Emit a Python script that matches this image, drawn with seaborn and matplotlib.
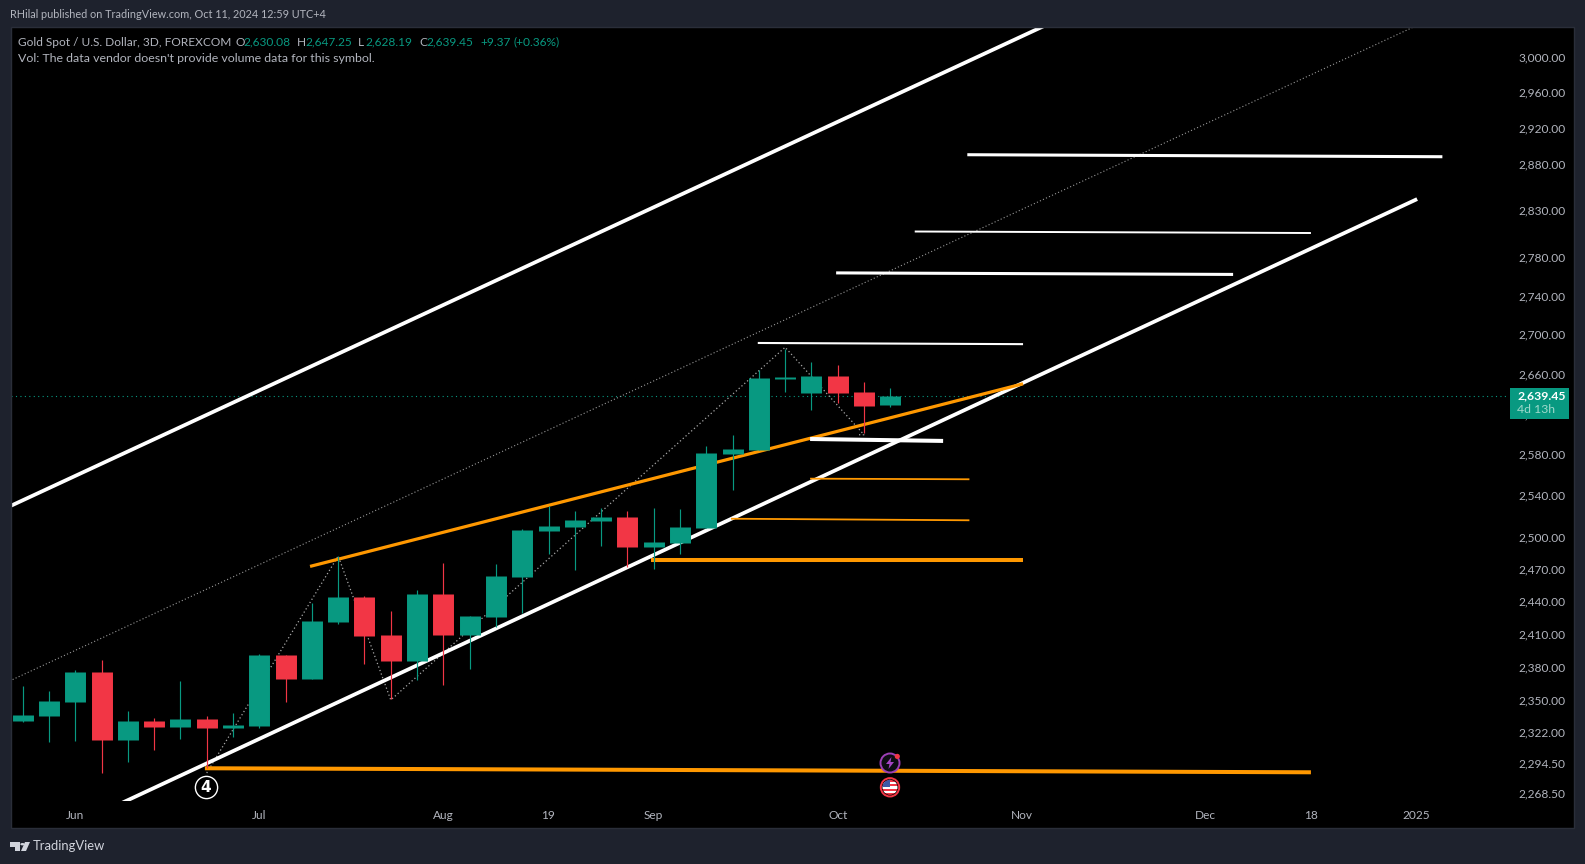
import matplotlib
matplotlib.use("Agg")
import matplotlib.pyplot as plt
from matplotlib.patches import Rectangle, Circle, Polygon
from matplotlib.ticker import NullLocator, NullFormatter
from matplotlib.transforms import ScaledTranslation
import numpy as np
import pandas as pd
import seaborn as sns

# ---------- candle data (3D bars) ----------
opens = [2333.28, 2337.68, 2350.04, 2376.77, 2316.67, 2333.28, 2328.02, 2335.05, 2327.15, 2328.90,
         2392.08, 2370.51, 2422.09, 2445.11, 2410.22, 2386.67, 2447.88, 2410.22, 2426.68, 2464.62,
         2507.96, 2511.76, 2517.49, 2521.30, 2492.79, 2496.57, 2510.81, 2582.29, 2586.22, 2656.88,
         2642.79, 2659.90, 2643.79, 2630.08]
closes = [2338.56, 2350.92, 2376.77, 2316.67, 2333.28, 2328.02, 2335.05, 2327.15, 2329.77, 2392.08,
          2370.51, 2423.01, 2445.11, 2409.31, 2386.67, 2447.88, 2410.22, 2427.59, 2465.55, 2508.91,
          2512.72, 2518.44, 2521.30, 2492.79, 2497.52, 2511.76, 2583.28, 2587.20, 2657.88, 2658.89,
          2659.90, 2642.79, 2629.78, 2639.45]
highs = [2364.25, 2359.80, 2378.57, 2387.56, 2342.08, 2335.92, 2368.71, 2337.68, 2340.33, 2392.98,
         2392.08, 2439.56, 2484.30, 2446.03, 2432.19, 2451.59, 2477.72, 2427.59, 2476.79, 2509.86,
         2531.85, 2527.05, 2529.92, 2527.05, 2529.92, 2528.96, 2590.15, 2600.98, 2665.97, 2687.31,
         2674.07, 2671.04, 2653.85, 2647.25]
lows = [2332.41, 2314.93, 2315.80, 2287.28, 2296.74, 2307.11, 2317.55, 2291.57, 2319.29, 2327.15,
        2350.04, 2370.51, 2420.26, 2383.96, 2352.70, 2369.61, 2365.15, 2379.47, 2417.52, 2430.96,
        2486.19, 2471.17, 2493.74, 2473.97, 2472.10, 2486.19, 2510.81, 2547.26, 2586.22, 2643.79,
        2625.80, 2632.78, 2602.97, 2628.19]
last_price = 2639.45

# ---------- drawn annotations, in bar index / price ----------
channel_upper_bars = [-0.5, 39.46]
channel_upper_prices = [2531.1, 3046.1]
channel_mid_bars = [-0.5, 52.88]
channel_mid_prices = [2368.8, 3036.0]
channel_lower_bars = [2.94, 53.04]
channel_lower_prices = [2252.9, 2844.3]
orange_trend_bars = [10.93, 38.05]
orange_trend_prices = [2474.1, 2651.7]

white_h1_bars = [35.93, 54.0]
white_h1_prices = [2892.6, 2890.4]
white_h2_bars = [33.93, 49.0]
white_h2_prices = [2809.5, 2807.9]
white_h3_bars = [30.94, 46.04]
white_h3_prices = [2765.7, 2764.1]
white_h4_bars = [27.96, 38.05]
white_h4_prices = [2693.1, 2691.9]
white_h5_bars = [29.95, 35.01]
white_h5_prices = [2596.7, 2594.8]

orange_h1_bars = [29.95, 36.01]
orange_h1_prices = [2557.9, 2557.3]
orange_h2_bars = [26.94, 36.01]
orange_h2_prices = [2519.3, 2517.8]
orange_h3_bars = [23.9, 38.05]
orange_h3_prices = [2479.7, 2479.7]
orange_h4_bars = [6.93, 49.0]
orange_h4_prices = [2291.6, 2288.1]

zigzag_bars = [7.0, 12.0, 14.0, 29.0, 32.0, 31.72]
zigzag_prices = [2287.5, 2483.9, 2351.8, 2688.7, 2600.9, 2600.9]

# ---------- axis labels ----------
x_tick_bars = [2, 9, 16, 20, 24, 31, 38, 45, 49, 53]
x_tick_labels = ["Jun", "Jul", "Aug", "19", "Sep", "Oct", "Nov", "Dec", "18", "2025"]
y_tick_prices = [3000, 2960, 2920, 2880, 2830, 2780, 2740, 2700, 2660, 2620, 2580, 2540,
                 2500, 2470, 2440, 2410, 2380, 2350, 2322, 2294.5, 2268.5]

# ---------- style ----------
W, H = 1585, 864
BG = "#1e222d"
GREEN = "#089981"
RED = "#f23645"
ORANGE = "#ff9800"
TEXT = "#b2b5be"
FONT = ["Lato", "DejaVu Sans"]

sns.set_theme(style="dark", rc={"lines.solid_capstyle": "butt", "axes.grid": False})
plt.rcParams["font.family"] = FONT

fig = plt.figure(figsize=(W / 100, H / 100), dpi=100, facecolor=BG)


def fx(x):
    return x / W


def fy(y):
    return 1 - y / H


def ftext(x, y, s, **kw):
    kw.setdefault("color", TEXT)
    kw.setdefault("fontsize", 8.6)
    kw.setdefault("va", "center")
    fig.text(fx(x), fy(y), s, **kw)


fig.add_artist(Rectangle((fx(11), fy(828)), (1574 - 11) / W, (828 - 27) / H, transform=fig.transFigure,
                         facecolor="black", edgecolor="none", zorder=-5))
fig.add_artist(Rectangle((fx(10.5), fy(828)), (1574 - 10.5) / W, (828 - 27) / H, transform=fig.transFigure,
                         facecolor="none", edgecolor="#2a2e39", linewidth=1, zorder=2))

ax = fig.add_axes([fx(11), fy(801), (1506 - 11) / W, (801 - 27) / H], facecolor="black", zorder=1)
ax.set_yscale("log")


def draw(bars, prices, color, lw, ls="-", z=2):
    sns.lineplot(x=bars, y=prices, ax=ax, estimator=None, sort=False, color=color,
                 linewidth=lw, linestyle=ls, zorder=z, legend=False)


DOT = (0, (1, 2))
ax.axhline(last_price, color=GREEN, lw=0.8, ls=(0, (1, 3)), zorder=1)

draw(channel_mid_bars, channel_mid_prices, "#9a9a9a", 0.8, DOT)
draw(zigzag_bars, zigzag_prices, "#a8a8a8", 0.9, DOT)
draw(channel_upper_bars, channel_upper_prices, "white", 2.7)
draw(channel_lower_bars, channel_lower_prices, "white", 2.7)
draw(orange_trend_bars, orange_trend_prices, ORANGE, 2.3)
draw(orange_h4_bars, orange_h4_prices, ORANGE, 2.9)
draw(orange_h3_bars, orange_h3_prices, ORANGE, 2.9)
draw(orange_h2_bars, orange_h2_prices, ORANGE, 1.3)
draw(orange_h1_bars, orange_h1_prices, ORANGE, 1.3)
draw(white_h1_bars, white_h1_prices, "white", 2.2)
draw(white_h2_bars, white_h2_prices, "white", 1.4)
draw(white_h3_bars, white_h3_prices, "white", 2.2)
draw(white_h4_bars, white_h4_prices, "white", 1.5)
draw(white_h5_bars, white_h5_prices, "white", 2.9)

# candles
df = pd.DataFrame({"bar": np.arange(len(opens)), "open": opens, "high": highs, "low": lows, "close": closes})
df["dir"] = np.where(df["close"] >= df["open"], "up", "down")
palette = {"up": GREEN, "down": RED}
wicks = df.melt(id_vars=["bar", "dir"], value_vars=["high", "low"], value_name="price")
bodies = df.melt(id_vars=["bar", "dir"], value_vars=["open", "close"], value_name="price")
sns.lineplot(data=wicks, x="bar", y="price", units="bar", hue="dir", palette=palette, estimator=None,
             linewidth=0.85, legend=False, ax=ax, zorder=3)
sns.lineplot(data=bodies, x="bar", y="price", units="bar", hue="dir", palette=palette, estimator=None,
             linewidth=15.1, legend=False, ax=ax, zorder=4)

# "4" wave marker
ax.plot([6.97], [2275], marker="o", ms=16, mfc="black", mec="white", mew=1.0, zorder=5, clip_on=False)
ax.text(6.97, 2275, "4", color="white", fontsize=11, fontweight="bold", ha="center", va="center",
        family=["DejaVu Sans"], zorder=6)

ax.set_xlim(-0.445, 56.42)
ax.set_ylim(2263.3, 3036.3)
ax.yaxis.set_minor_locator(NullLocator())
ax.yaxis.set_minor_formatter(NullFormatter())
ax.yaxis.tick_right()
ax.set_yticks(y_tick_prices)
ax.set_yticklabels([f"{p:,.2f}" for p in y_tick_prices])
ax.set_xticks(x_tick_bars)
ax.set_xticklabels(x_tick_labels)
ax.tick_params(axis="y", length=0, pad=8.8, colors=TEXT, labelsize=8.6)
ax.tick_params(axis="x", length=0, pad=6.2, colors=TEXT, labelsize=8.6)
ax.yaxis.set_minor_locator(NullLocator())
ax.set_xlabel("")
ax.set_ylabel("")
for s in ax.spines.values():
    s.set_visible(False)
for lab in ax.get_yticklabels():
    lab.set_transform(lab.get_transform() + ScaledTranslation(0, 2 / 100, fig.dpi_scale_trans))

# current price tag
fig.add_artist(Rectangle((fx(1510), fy(418.7)), 59.3 / W, 30.7 / H, transform=fig.transFigure,
                         facecolor=GREEN, edgecolor="none", zorder=10))
ftext(1517, 396, "2,639.45", color="white", fontweight="bold", zorder=11, fontsize=8.8)
ftext(1517, 410, "4d 13h", color="#9fd9cc", zorder=11, fontsize=8.8)

# header / legend texts
ftext(10, 15, "RHilal published on TradingView.com, Oct 11, 2024 12:59 UTC+4", fontsize=7.8)
ftext(18, 42, "Gold Spot / U.S. Dollar, 3D, FOREXCOM")
for x, s, col in [(235, "O", TEXT), (243, "2,630.08", GREEN), (297, "H", TEXT), (305, "2,647.25", GREEN),
                  (358, "L", TEXT), (365, "2,628.19", GREEN), (419, "C", TEXT), (426, "2,639.45", GREEN),
                  (480, "+9.37", GREEN), (514, "(+0.36%)", GREEN)]:
    ftext(x, 42, s, color=col)
ftext(18, 59, "Vol: The data vendor doesn't provide volume data for this symbol.", fontsize=8.9)

# TradingView logo
LOGO = "#d1d4dc"
for pts in ([(10, 842), (20, 842), (20, 851), (15, 851), (15, 846.5), (10, 846.5)],
            [(25, 842), (30, 842), (26, 851), (21, 851)]):
    fig.add_artist(Polygon([(fx(a), fy(b)) for a, b in pts], closed=True, transform=fig.transFigure,
                           facecolor=LOGO, edgecolor="none"))
fig.add_artist(Circle((fx(22.5), fy(844.2)), 2.2 / W, transform=fig.transFigure, facecolor=LOGO, edgecolor="none"))
ftext(33, 846.5, "TradingView", color=LOGO, fontsize=9.4)

# event icons, on their own small axes
icon = fig.add_axes([fx(878), fy(775), 24 / W, 24 / H], facecolor="none", zorder=3)
icon.set_xlim(-12, 12)
icon.set_ylim(-12, 12)
icon.axis("off")
icon.add_patch(Circle((0, 0), 9.5, facecolor="#0d0d12", edgecolor="#9c3fb5", lw=1.4))
icon.add_patch(Polygon([(1.5, 6), (-4, -1), (-0.5, -1), (-1.5, -6), (4, 1), (0.5, 1)], closed=True,
                       facecolor="#a645c4", edgecolor="none"))
icon.add_patch(Circle((7.3, 6.6), 2.6, facecolor=RED, edgecolor="none"))

flag = fig.add_axes([fx(878), fy(799.3), 24 / W, 24 / H], facecolor="none", zorder=3)
flag.set_xlim(-12, 12)
flag.set_ylim(-12, 12)
flag.axis("off")
clip = Circle((0, 0), 7.5, transform=flag.transData)
for i, yy in enumerate(np.arange(-8, 8, 2.2)):
    r = flag.add_patch(Rectangle((-8, yy), 16, 2.2, facecolor=RED if i % 2 == 0 else "white", edgecolor="none"))
    r.set_clip_path(clip)
c = flag.add_patch(Rectangle((-8, 0), 8, 8, facecolor="#3c5aa6", edgecolor="none"))
c.set_clip_path(clip)
flag.add_patch(Circle((0, 0), 9.2, facecolor="none", edgecolor=RED, lw=1.4))

fig.savefig("out.png", dpi=100, facecolor=BG)
